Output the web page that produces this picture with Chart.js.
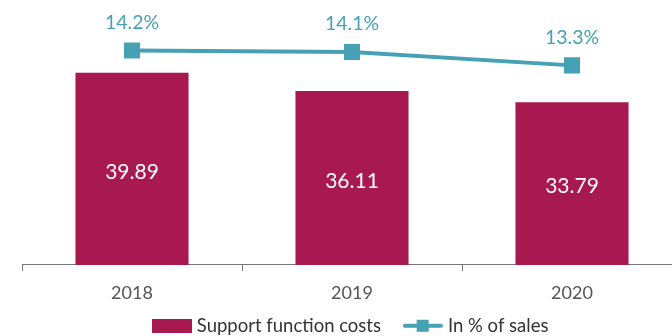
<!DOCTYPE html>
<html>
<head>
<meta charset="utf-8">
<script src="https://cdn.jsdelivr.net/npm/chart.js@4/dist/chart.umd.min.js"></script>
<style>
  html, body { margin: 0; padding: 0; overflow: hidden; background: #fff; }
  #wrap { width: 704px; height: 336px; }
</style>
</head>
<body>
<div id="wrap"><canvas id="costs"></canvas></div>
<script>
// 年ごとのデータ
const years = ["2018", "2019", "2020"];
const supportCosts = [39.89, 36.11, 33.79];
const pctOfSales = [14.2, 14.1, 13.3];

const barColor = '#A8194F';
const lineColor = '#46A1B4';

// 凡例用の小さい画像（棒は四角、線はマーカー付きの線）
function legendImage(drawFn) {
  const c = document.createElement('canvas');
  c.width = 40; c.height = 14;
  drawFn(c.getContext('2d'));
  return c;
}
const barIcon = legendImage(function (g) {
  g.fillStyle = barColor;
  g.fillRect(0, 0, 40, 14);
});
const lineIcon = legendImage(function (g) {
  g.strokeStyle = lineColor;
  g.lineWidth = 4;
  g.lineCap = 'round';
  g.beginPath(); g.moveTo(2, 7); g.lineTo(38, 7); g.stroke();
  g.fillStyle = lineColor;
  g.fillRect(14, 1, 12, 12);
});
const icons = [barIcon, lineIcon];

// 値ラベルを描くプラグイン
const valueLabels = {
  id: 'valueLabels',
  afterDatasetsDraw(chart) {
    const ctx = chart.ctx;
    ctx.save();
    ctx.textAlign = 'center';
    ctx.textBaseline = 'middle';
    ctx.font = '21px Lato';
    chart.getDatasetMeta(0).data.forEach(function (bar, i) {
      ctx.fillStyle = '#fff';
      ctx.fillText(supportCosts[i].toFixed(2), bar.x, (bar.y + bar.base) / 2 + 3);
    });
    ctx.font = '19.5px Lato';
    chart.getDatasetMeta(1).data.forEach(function (pt, i) {
      ctx.fillStyle = lineColor;
      ctx.fillText(pctOfSales[i].toFixed(1) + '%', pt.x, pt.y - 28);
    });
    ctx.restore();
  }
};

let context = document.querySelector('#costs').getContext('2d');
new Chart(context, {
  data: {
    labels: years,
    datasets: [{
      type: 'bar',
      label: 'Support function costs',
      data: supportCosts,
      backgroundColor: barColor,
      yAxisID: 'y',
      categoryPercentage: 1,
      barPercentage: 0.514,
      order: 2
    }, {
      type: 'line',
      label: 'In % of sales',
      data: pctOfSales,
      borderColor: lineColor,
      backgroundColor: lineColor,
      borderWidth: 4,
      pointStyle: 'rect',
      pointRadius: 8.5,
      pointHoverRadius: 8.5,
      yAxisID: 'y2',
      order: 1
    }]
  },
  options: {
    responsive: true,
    maintainAspectRatio: false,
    animation: false,
    layout: { padding: { top: 4, left: 22, right: 22, bottom: -9 } },
    scales: {
      x: {
        offset: true,
        grid: { offset: true, drawOnChartArea: false, drawTicks: true, tickLength: 6, color: '#777' },
        border: { display: true, color: '#777', width: 1 },
        ticks: { color: '#555', font: { family: 'Lato', size: 18 }, padding: 11 }
      },
      y: { display: false, min: 0, max: 52.4 },
      y2: { display: false, min: 1.3, max: 16.48 }
    },
    plugins: {
      tooltip: { enabled: false },
      legend: {
        position: 'bottom',
        labels: {
          color: '#333',
          font: { family: 'Lato', size: 18.5 },
          usePointStyle: true,
          pointStyleWidth: 32,
          boxHeight: 14,
          padding: 2,
          // 棒グラフを先に並べる
          sort: function (a, b) { return a.datasetIndex - b.datasetIndex; },
          generateLabels: function (chart) {
            const items = Chart.defaults.plugins.legend.labels.generateLabels(chart);
            items.forEach(function (it) {
              it.pointStyle = icons[it.datasetIndex];
              // 項目の間をあけるため最初の項目の後ろに空白を足す
              if (it.datasetIndex === 0) it.text += '     ';
            });
            return items;
          }
        }
      }
    }
  },
  plugins: [valueLabels]
});
</script>
</body>
</html>
